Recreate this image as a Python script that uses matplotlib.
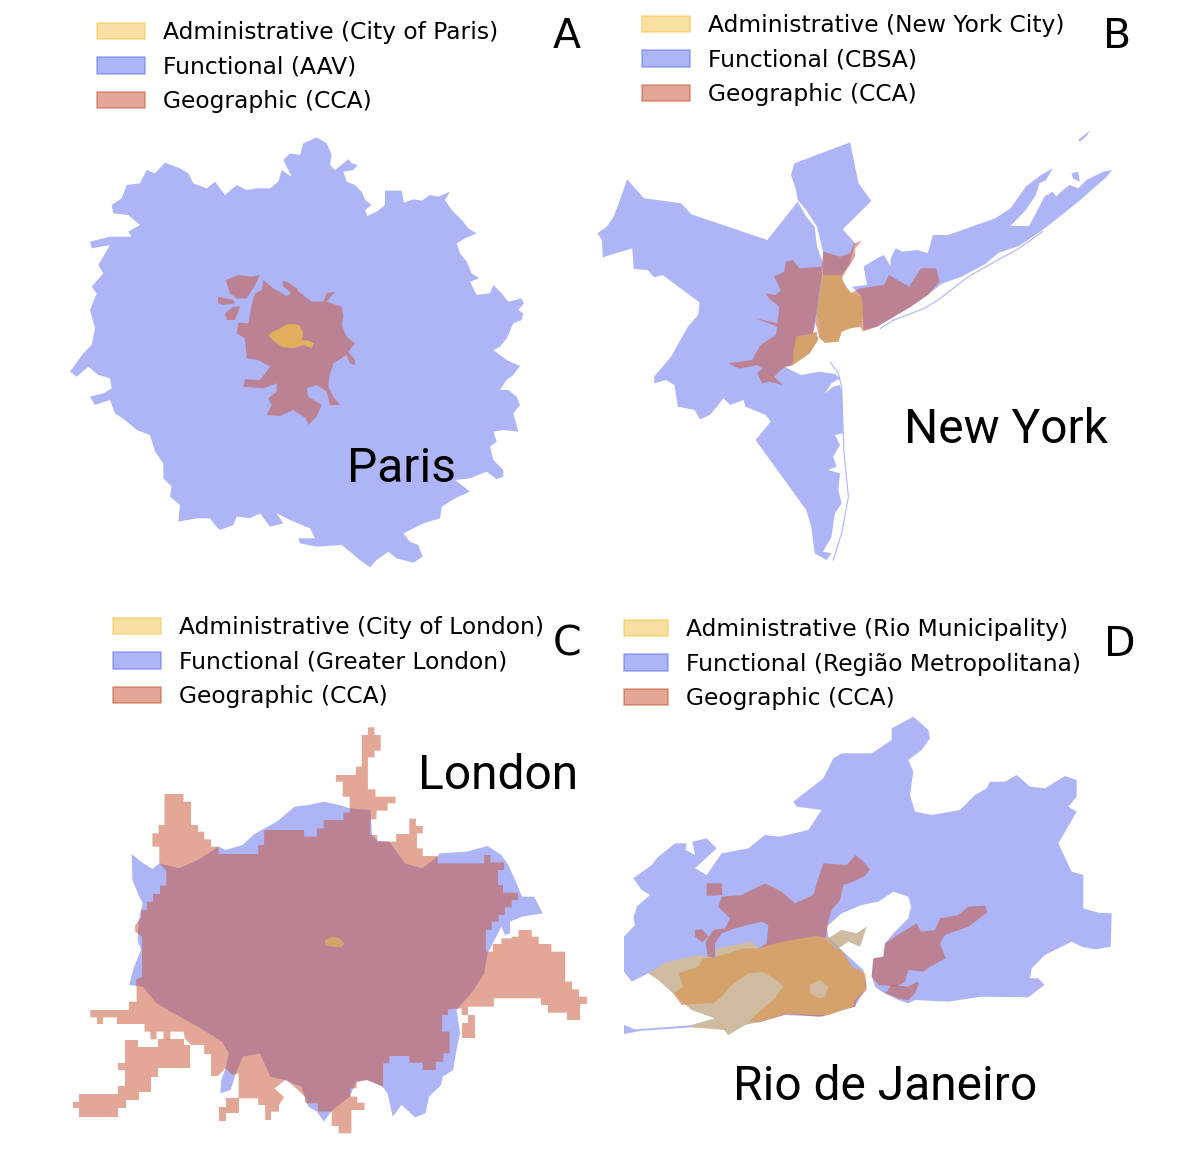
#!/usr/bin/env python3

import matplotlib
matplotlib.use('Agg')
import matplotlib.pyplot as plt
from matplotlib.patches import Patch

# Paris
paris_functional = [(770,22),(800,40),(815,75),(810,105),(825,120),(850,100),(865,88),(875,100),(893,105),(880,120),(850,125),(860,155),(885,165),(905,185),(915,210),(935,225),(915,240),(922,258),(950,245),(975,225),(975,182),(1025,182),(1032,218),(1060,208),(1085,212),(1110,195),(1135,200),(1170,185),(1155,210),(1175,240),(1205,270),(1225,295),(1250,310),(1215,325),(1190,340),(1200,370),(1220,395),(1235,430),(1258,445),(1230,455),(1250,495),(1290,490),(1300,465),(1325,490),(1345,515),(1385,505),(1392,520),(1375,540),(1390,550),(1385,570),(1360,580),(1340,625),(1320,650),(1300,660),(1340,690),(1380,708),(1360,735),(1340,750),(1320,780),(1345,780),(1370,800),(1380,825),(1360,850),(1375,905),(1330,900),(1300,905),(1310,935),(1290,950),(1300,990),(1330,1020),(1330,1040),(1310,1048),(1280,1025),(1230,1045),(1185,1050),(1230,1085),(1185,1105),(1145,1130),(1140,1165),(1090,1180),(1030,1210),(1050,1235),(1075,1245),(1088,1280),(1060,1298),(1010,1285),(985,1265),(950,1290),(930,1312),(900,1290),(870,1265),(845,1245),(770,1250),(720,1240),(715,1225),(765,1225),(750,1195),(725,1185),(690,1170),(650,1150),(670,1180),(630,1190),(600,1150),(570,1165),(530,1160),(520,1185),(480,1200),(465,1185),(450,1165),(410,1165),(355,1175),(360,1125),(330,1100),(335,1070),(310,1045),(310,1000),(285,965),(270,915),(230,900),(195,870),(165,850),(150,810),(105,825),(90,800),(130,790),(155,775),(150,745),(115,735),(85,710),(50,740),(30,725),(70,670),(95,645),(105,595),(90,540),(110,490),(95,470),(130,430),(115,405),(150,345),(95,355),(90,335),(150,320),(215,320),(205,305),(240,285),(205,255),(160,250),(155,225),(185,205),(200,165),(240,160),(260,120),(285,130),(315,98),(360,115),(385,130),(400,160),(440,175),(465,155),(495,195),(530,165),(560,180),(590,175),(630,175),(655,155),(665,120),(695,140),(670,90),(690,70),(720,75),(730,40)]
paris_geo_main = [(610,450),(640,475),(680,498),(710,480),(755,515),(790,515),(800,490),(825,485),(800,515),(845,530),(850,560),(845,585),(860,620),(885,640),(865,665),(885,690),(885,705),(870,700),(860,675),(820,700),(808,740),(805,770),(820,800),(840,825),(810,825),(800,785),(770,765),(740,775),(745,800),(785,825),(770,860),(745,885),(738,865),(700,840),(660,858),(620,855),(635,825),(625,805),(650,785),(650,760),(610,775),(550,770),(555,748),(600,750),(630,710),(595,690),(560,685),(555,625),(530,610),(535,578),(565,580),(575,525),(585,490),(605,480)]
paris_geo_nw = [(497,450),(535,435),(575,440),(600,435),(590,455),(580,475),(560,505),(530,505),(510,490)]
paris_geo_w1 = [(475,500),(520,510),(525,520),(490,525),(473,520)]
paris_geo_w2 = [(520,530),(540,530),(525,570),(500,570),(495,550)]
paris_geo_n = [(668,452),(680,455),(715,478),(695,490),(668,468)]
paris_admin = [(625,615),(640,605),(660,595),(680,583),(705,582),(720,588),(730,612),(725,630),(745,632),(762,640),(755,655),(730,645),(700,655),(665,650),(640,632)]

# New York
ny_functional_west = [(110,178),(160,235),(200,240),(270,250),(300,283),(525,360),(615,245),(640,290),(665,320),(672,380),(690,430),(680,520),(670,600),(660,640),(610,650),(600,735),(575,740),(625,765),(680,755),(725,762),(740,775),(715,790),(695,820),(720,800),(740,795),(745,815),(748,940),(725,945),(740,975),(720,1010),(730,1040),(705,1050),(740,1060),(735,1110),(745,1150),(725,1180),(715,1250),(690,1295),(715,1300),(700,1320),(665,1300),(655,1220),(640,1170),(490,960),(535,905),(520,885),(460,860),(455,840),(415,855),(395,835),(375,860),(355,885),(325,898),(310,870),(260,860),(250,795),(225,780),(190,790),(190,770),(240,710),(290,620),(320,585),(325,548),(215,465),(190,472),(170,450),(130,447),(125,385),(38,412),(35,360),(22,340),(50,320),(70,290),(85,250)]
ny_functional_north = [(615,240),(610,210),(595,165),(605,130),(770,67),(795,190),(833,243),(748,328),(785,370),(775,405),(770,430),(745,465),(690,465),(690,395),(672,320),(640,270)]
ny_functional_island = [(810,440),(825,430),(850,415),(870,405),(890,440),(890,415),(905,385),(925,395),(970,390),(1000,400),(1015,345),(1060,345),(1130,320),(1200,295),(1245,265),(1290,200),(1335,165),(1370,145),(1350,180),(1330,190),(1320,225),(1290,270),(1245,318),(1300,318),(1320,280),(1345,230),(1370,215),(1380,230),(1400,210),(1420,195),(1445,205),(1470,180),(1500,165),(1520,155),(1545,150),(1530,170),(1440,250),(1340,330),(1270,378),(1210,398),(1170,432),(1100,470),(1040,492),(1000,525),(950,560),(900,590),(850,620),(810,630),(805,530),(775,500),(820,495)]
ny_islet_north = [(1445,60),(1480,32),(1470,48),(1450,65)]
ny_islet_east = [(1425,160),(1445,155),(1450,185),(1430,175)]
ny_core_main = [(690,465),(745,465),(750,490),(775,520),(805,530),(808,590),(800,620),(770,625),(745,635),(735,665),(695,668),(678,650),(680,600),(670,580),(680,520)]
ny_core_staten = [(610,650),(660,640),(670,635),(675,660),(650,700),(600,735),(600,700)]
ny_barrier_x = [712,735,745,752,765,745,720]
ny_barrier_y = [727,760,800,1000,1130,1240,1320]
ny_fire_island_x = [1340,1270,1190,1120,1030,990,900,860]
ny_fire_island_y = [335,385,430,470,540,565,600,625]
ny_geo_west = [(580,425),(600,420),(620,445),(685,440),(685,470),(670,580),(660,640),(670,635),(675,660),(650,700),(600,735),(570,745),(545,770),(570,795),(530,785),(510,790),(495,760),(510,745),(495,735),(450,745),(440,745),(410,730),(480,720),(505,675),(550,645),(555,620),(490,595),(555,610),(560,560),(530,535),(520,520),(550,525),(565,510),(545,470),(575,455)]
ny_geo_east = [(690,395),(740,410),(770,400),(782,370),(805,362),(785,385),(785,410),(760,450),(745,475),(770,520),(800,505),(870,495),(885,465),(945,500),(980,445),(1025,445),(1035,485),(1000,525),(950,560),(900,590),(850,620),(808,635),(800,620),(770,625),(745,635),(735,665),(695,668),(680,655),(668,610),(680,520)]

# London
london_functional = [(208,402),(235,425),(268,447),(288,430),(345,445),(400,420),(460,380),(480,390),(530,375),(560,345),(585,330),(620,310),(635,300),(680,260),(720,255),(765,245),(810,255),(840,265),(900,270),(905,345),(920,362),(955,365),(1000,430),(1050,445),(1095,410),(1100,400),(1180,395),(1240,378),(1280,405),(1300,435),(1320,480),(1340,530),(1375,530),(1400,580),(1340,590),(1305,605),(1305,640),(1290,645),(1280,620),(1260,660),(1250,680),(1240,700),(1230,760),(1200,810),(1150,870),(1160,940),(1150,990),(1140,1050),(1110,1070),(1105,1095),(1070,1130),(1060,1180),(1030,1192),(990,1155),(965,1190),(950,1120),(935,1100),(890,1080),(860,1085),(840,1130),(790,1170),(765,1205),(745,1175),(720,1160),(700,1100),(650,1080),(610,1070),(580,1000),(530,1010),(510,1060),(495,1110),(465,1120),(468,1080),(480,1045),(490,1000),(470,965),(400,920),(330,880),(280,850),(240,800),(200,795),(215,740),(235,690),(225,660),(228,600),(240,550),(230,530),(210,480)]
london_geo_main = [(893,22),(912,22),(912,45),(930,45),(930,92),(912,92),(912,112),(893,112),(893,208),(915,208),(915,230),(973,230),(973,250),(950,250),(950,272),(918,272),(918,298),(900,298),(900,345),(920,345),(920,365),(975,365),(975,342),(1013,342),(1013,296),(1032,296),(1032,318),(1052,318),(1052,340),(1035,340),(1035,385),(1052,385),(1052,408),(1095,408),(1095,430),(1230,430),(1230,405),(1248,405),(1248,427),(1288,427),(1288,450),(1270,450),(1270,495),(1285,495),(1285,518),(1328,518),(1328,540),(1310,540),(1310,562),(1290,562),(1290,585),(1272,585),(1272,605),(1252,605),(1252,630),(1235,630),(1235,695),(1255,695),(1255,672),(1280,672),(1280,655),(1310,655),(1310,650),(1330,650),(1330,630),(1368,630),(1368,650),(1388,650),(1388,672),(1425,672),(1425,695),(1465,695),(1465,785),(1485,785),(1485,808),(1505,808),(1505,830),(1528,830),(1528,852),(1508,852),(1508,900),(1470,900),(1470,878),(1415,878),(1415,855),(1395,855),(1395,835),(1258,835),(1258,860),(1183,860),(1183,885),(1165,885),(1165,865),(1125,868),(1125,885),(1108,885),(1108,935),(1130,935),(1130,1000),(1112,1000),(1112,1025),(1090,1025),(1090,1050),(1052,1050),(1052,1028),(1013,1028),(1013,1008),(955,1008),(955,1030),(937,1030),(937,1100),(915,1090),(890,1080),(860,1085),(860,1105),(842,1105),(842,1125),(845,1130),(862,1130),(862,1148),(883,1148),(883,1170),(845,1170),(845,1240),(808,1240),(808,1218),(788,1218),(788,1175),(748,1175),(748,1150),(712,1150),(710,1130),(690,1110),(655,1078),(635,1095),(622,1105),(650,1132),(635,1155),(635,1175),(612,1175),(612,1200),(595,1200),(595,1155),(575,1155),(575,1135),(518,1135),(518,1060),(500,1065),(480,1045),(458,1068),(438,1068),(438,1002),(418,1002),(418,975),(380,975),(362,955),(358,935),(320,935),(320,958),(300,958),(300,935),(280,935),(280,958),(262,958),(262,935),(245,935),(245,912),(165,912),(165,892),(125,892),(125,912),(107,912),(107,892),(88,892),(88,870),(200,870),(200,845),(222,845),(222,800),(220,780),(238,770),(238,650),(218,635),(218,615),(235,595),(235,570),(252,570),(252,545),(270,545),(270,522),(290,522),(290,497),(308,497),(308,452),(288,430),(288,380),(268,380),(268,340),(286,340),(286,315),(303,315),(303,222),(358,222),(358,245),(380,245),(380,315),(400,315),(400,335),(418,335),(418,358),(438,358),(438,380),(460,380),(460,402),(575,402),(575,375),(592,375),(592,330),(708,330),(708,350),(745,350),(745,325),(765,325),(765,300),(822,300),(822,278),(840,278),(840,230),(820,230),(820,185),(800,185),(800,165),(858,165),(858,140),(875,140),(875,45),(893,45)]
london_geo_sw = [(188,960),(225,960),(225,982),(285,982),(285,958),(360,958),(360,975),(378,975),(378,1045),(285,1045),(285,1070),(265,1070),(265,1115),(228,1115),(228,1140),(190,1140),(190,1165),(168,1165),(168,1190),(55,1190),(55,1165),(37,1165),(37,1145),(55,1145),(55,1122),(168,1122),(168,1098),(188,1098),(188,1050),(168,1050),(168,1028),(188,1028)]
london_geo_e = [(1183,885),(1203,885),(1203,955),(1165,955),(1165,908),(1183,908)]
london_geo_s = [(480,1135),(518,1135),(518,1178),(480,1178),(480,1203),(460,1203),(460,1160),(480,1160)]
london_admin = [(768,660),(790,650),(810,655),(825,670),(815,682),(770,678)]

# Rio de Janeiro
rio_functional = [(27,680),(60,645),(55,625),(65,590),(105,555),(80,540),(55,505),(110,465),(130,440),(180,400),(215,400),(212,420),(240,435),(232,395),(275,385),(305,415),(240,475),(275,495),(320,430),(400,415),(450,375),(495,380),(580,360),(620,300),(545,290),(535,275),(580,240),(625,205),(655,145),(680,130),(770,130),(830,90),(830,55),(895,20),(940,60),(945,85),(920,120),(880,150),(895,185),(885,255),(900,305),(950,315),(1035,300),(1080,255),(1115,235),(1125,215),(1170,215),(1205,195),(1245,230),(1290,235),(1350,198),(1385,210),(1385,260),(1360,290),(1385,305),(1365,340),(1330,400),(1370,485),(1405,495),(1405,595),(1450,608),(1490,610),(1487,710),(1440,718),(1400,710),(1370,695),(1290,735),(1250,775),(1245,805),(1270,805),(1288,825),(1240,862),(1100,860),(1000,875),(900,870),(880,880),(850,870),(800,845),(780,830),(770,800),(775,745),(805,740),(810,700),(835,670),(880,625),(888,590),(880,560),(835,545),(790,575),(740,585),(680,610),(635,650),(640,680),(680,720),(745,780),(755,830),(720,890),(620,920),(510,915),(435,935),(390,945),(340,975),(300,925),(230,900),(180,855),(130,810),(100,790),(50,815),(27,785)]
rio_functional_sliver = [(27,945),(60,958),(200,948),(230,945),(300,925),(335,960),(230,952),(80,962),(27,972)]
rio_niteroi = [(640,685),(680,660),(725,670),(755,650),(735,710),(700,695),(670,715),(650,705)]
rio_geo_south = [(455,715),(490,698),(540,682),(600,678),(632,685),(660,715),(680,720),(710,770),(750,790),(755,840),(725,870),(720,890),(680,900),(640,915),(612,920),(612,865),(630,860),(640,830),(615,810),(585,825),(585,850),(612,865),(612,920),(515,912),(430,938),(400,935),(450,890),(480,865),(505,828),(470,800),(440,785),(400,790),(345,830),(325,855),(295,880),(240,882),(200,885),(175,850),(205,830),(190,790),(250,770),(265,745),(300,742),(385,715),(430,715)]
rio_geo_north = [(722,435),(745,455),(765,478),(750,497),(715,515),(685,525),(675,570),(650,600),(640,635),(632,685),(600,678),(540,682),(490,698),(455,715),(430,715),(455,700),(460,645),(440,635),(360,655),(320,670),(300,700),(300,742),(278,740),(272,695),(295,660),(330,655),(345,625),(310,590),(320,560),(380,555),(450,520),(500,545),(540,580),(595,555),(605,520),(625,460),(695,465)]
rio_geo_nw = [(275,520),(320,520),(322,555),(275,558)]
rio_geo_w = [(240,660),(262,658),(280,680),(262,697),(240,680)]
rio_geo_east = [(905,640),(918,665),(960,660),(975,625),(1030,615),(1060,590),(1110,587),(1117,607),(1060,650),(990,675),(975,700),(992,745),(945,770),(925,785),(880,780),(870,815),(845,830),(790,825),(770,800),(775,745),(805,740),(810,700),(840,680)]
rio_geo_se = [(810,850),(830,825),(880,830),(905,815),(912,820),(900,850),(880,870),(860,868)]
rio_admin_main = [(100,790),(145,760),(205,745),(250,735),(300,745),(305,715),(410,695),(430,715),(490,698),(600,678),(640,685),(660,715),(680,720),(710,770),(750,790),(750,840),(720,870),(715,890),(640,915),(610,915),(515,912),(430,935),(390,945),(340,975),(300,925),(230,900),(180,855),(130,810)]
rio_admin_spit = [(230,945),(300,925),(335,960),(230,952)]

# Legend and label text
paris_labels = ['Administrative (City of Paris)', 'Functional (AAV)', 'Geographic (CCA)']
ny_labels = ['Administrative (New York City)', 'Functional (CBSA)', 'Geographic (CCA)']
london_labels = ['Administrative (City of London)', 'Functional (Greater London)', 'Geographic (CCA)']
rio_labels = ['Administrative (Rio Municipality)', 'Functional (Região Metropolitana)', 'Geographic (CCA)']

ADMIN = '#F2C248'
FUNC = '#5D6DF1'
GEO = '#C7512F'

W, H = 1200, 1154
LEGEND_PT = 16.8
LEGEND_PX = LEGEND_PT * 100 / 72

fig = plt.figure(figsize=(12, 11.54), dpi=100)


def map_axes(x, y, w, h, x_units):
    ax = fig.add_axes([x / W, 1 - (y + h) / H, w / W, h / H])
    ax.set_xlim(0, x_units)
    ax.set_ylim(h * 3, 0)
    ax.axis('off')
    return ax


def fill_all(ax, shapes, color, alpha=0.5):
    for pts in shapes:
        xs, ys = zip(*pts)
        ax.fill(xs, ys, color=color, alpha=alpha, lw=0)


def add_legend(labels, x, y, handle_px=48):
    handles = [Patch(facecolor=c, edgecolor=c, alpha=0.5, lw=1.2) for c in (ADMIN, FUNC, GEO)]
    fig.legend(handles, labels, loc='upper left', bbox_to_anchor=(x / W, 1 - y / H), frameon=False,
               fontsize=LEGEND_PT, borderpad=0, borderaxespad=0, handlelength=handle_px / LEGEND_PX,
               handleheight=0.72, handletextpad=18 / LEGEND_PX, labelspacing=0.5)


def px_text(x, y, s, **kw):
    fig.text(x / W, 1 - y / H, s, va='baseline', color='black', **kw)


ax_a = map_axes(60, 130, 480, 450, 1440)
fill_all(ax_a, [paris_functional], FUNC)
fill_all(ax_a, [paris_geo_main, paris_geo_nw, paris_geo_w1, paris_geo_w2, paris_geo_n], GEO)
fill_all(ax_a, [paris_admin], ADMIN, alpha=0.72)

ax_b = map_axes(590, 120, 530, 450, 1569)
fill_all(ax_b, [ny_functional_west, ny_functional_north, ny_functional_island, ny_islet_north, ny_islet_east,
                ny_core_main, ny_core_staten], FUNC)
ax_b.plot(ny_barrier_x, ny_barrier_y, color=FUNC, alpha=0.5, lw=0.8)
ax_b.plot(ny_fire_island_x, ny_fire_island_y, color=FUNC, alpha=0.5, lw=0.8)
fill_all(ax_b, [ny_geo_west, ny_geo_east], GEO)
fill_all(ax_b, [ny_core_main, ny_core_staten], ADMIN)

ax_c = map_axes(60, 720, 540, 420, 1566)
fill_all(ax_c, [london_functional], FUNC)
fill_all(ax_c, [london_geo_main, london_geo_sw, london_geo_e, london_geo_s], GEO)
fill_all(ax_c, [london_admin], ADMIN)

ax_d = map_axes(615, 710, 510, 340, 1530)
fill_all(ax_d, [rio_functional, rio_functional_sliver, rio_niteroi], FUNC)
fill_all(ax_d, [rio_geo_south, rio_geo_north, rio_geo_nw, rio_geo_w, rio_geo_east, rio_geo_se], GEO)
fill_all(ax_d, [rio_admin_main, rio_admin_spit, rio_niteroi], ADMIN)

add_legend(paris_labels, 97, 21)
add_legend(ny_labels, 642, 14)
add_legend(london_labels, 113, 616)
add_legend(rio_labels, 624, 618, handle_px=44)

for x, y, s in [(553, 48, 'A'), (1103, 48, 'B'), (553, 656, 'C'), (1104, 656, 'D')]:
    px_text(x, y, s, fontsize=29.5)

name_font = dict(family='Roboto', fontsize=34.5)
px_text(347, 482, 'Paris', **name_font)
px_text(904, 443, 'New York', **name_font)
px_text(418, 789, 'London', **name_font)
px_text(733, 1100, 'Rio de Janeiro', **name_font)

fig.savefig('out.png', dpi=100)
